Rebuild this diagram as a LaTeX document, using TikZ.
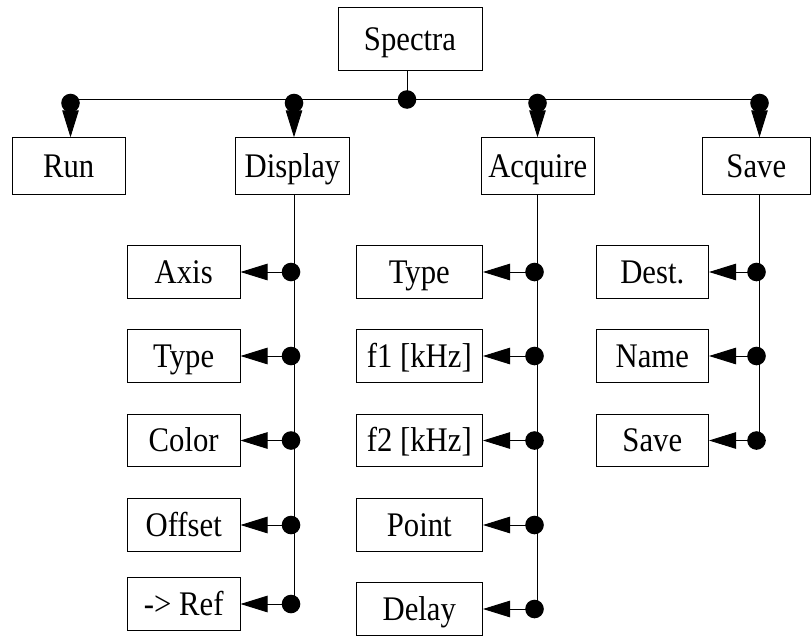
\documentclass[tikz,border=0pt]{standalone}
\usepackage{fontspec}
\setmainfont{Liberation Serif}[FakeStretch=0.89]
\usepackage{tikz}
\usetikzlibrary{arrows.meta}
\usetikzlibrary{positioning}

\begin{document}
\begin{tikzpicture}[x=1pt,y=1pt,line width=0.9pt,
	box/.style={draw,inner sep=0pt,minimum height=52.5pt,text height=22.8pt,text depth=0pt,font=\fontsize{34.5}{40}\selectfont},
	topbox/.style={box,minimum height=56.3pt},
	branch/.style={-{Triangle[length=27pt,width=16.5pt]}},
	junction/.style={circle,fill=black,inner sep=0pt,minimum size=18.6pt}]
	
	\useasboundingbox (0,0) rectangle (811,-637);
	
	% root and first level
	\node[box,minimum width=144pt,minimum height=63pt] (spectra) at (410,-38.8) {Spectra};
	\node[topbox,minimum width=113.3pt] (run) at (68.7,-165.9) {Run};
	\node[topbox,minimum width=113.6pt] (display) at (292.5,-165.9) {Display};
	\node[topbox,minimum width=113.3pt] (acquire) at (537.7,-165.9) {Acquire};
	\node[topbox,minimum width=108.5pt] (save) at (756.3,-165.9) {Save};
	
	\coordinate (hub) at (407,-99.5);
	\coordinate (trun) at (70.5,-99.5);
	\coordinate (tdisplay) at (294,-99.5);
	\coordinate (tacquire) at (537.5,-99.5);
	\coordinate (tsave) at (759.5,-99.5);
	
	\draw (hub |- spectra.south) -- (hub);
	\node[junction] (jhub) at (hub) {};
	\draw (trun) -- (tsave);
	\foreach \name in {run,display,acquire,save} {
		\node[junction] (j\name) at ([yshift=-3.5pt]t\name) {};
		\draw[branch] (j\name.center) -- (j\name.center |- \name.north);
	}
	
	% Display column
	\foreach \name/\txt/\y in {d1/Axis/272, d2/Type/356, d3/Color/440.5, d4/Offset/525, d5/{-> Ref}/604} {
		\node[box,minimum width=112.7pt] (\name) at (183.7,-\y) {\txt};
		\node[junction] (j\name) at (291,-\y) {};
		\draw[branch] (j\name.center) -- (\name.east);
	}
	\draw (tdisplay |- display.south) -- (tdisplay |- jd5);
	
	% Acquire column
	\foreach \name/\txt/\y in {a1/Type/272, a2/{f1 [kHz]}/356, a3/{f2 [kHz]}/440.5, a4/Point/525, a5/Delay/609} {
		\node[box,minimum width=126.5pt] (\name) at (419.3,-\y) {\txt};
		\node[junction] (j\name) at (534.5,-\y) {};
		\draw[branch] (j\name.center) -- (\name.east);
	}
	\draw (tacquire |- acquire.south) -- (tacquire |- ja5);
	
	% Save column
	\foreach \name/\txt/\y in {s1/Dest./272, s2/Name/356, s3/Save/440.5} {
		\node[box,minimum width=112.5pt] (\name) at (652.3,-\y) {\txt};
		\node[junction] (j\name) at (756.5,-\y) {};
		\draw[branch] (j\name.center) -- (\name.east);
	}
	\draw (tsave |- save.south) -- (tsave |- js3);
\end{tikzpicture}
\end{document}
